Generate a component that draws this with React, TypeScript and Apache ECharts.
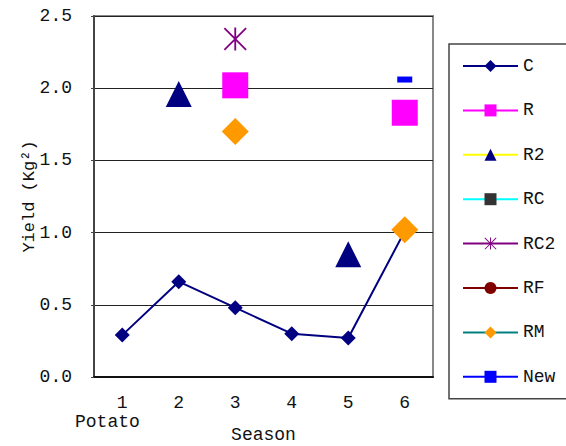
import React, { useEffect, useRef } from "react";
import * as echarts from "echarts";

const seasons = ["1", "2", "3", "4", "5", "6"];
const yTicks = [0, 0.5, 1.0, 1.5, 2.0, 2.5];
const seriesC = [0.29, 0.66, 0.48, 0.3, 0.27, 1.01];
const seriesR = [null, null, 2.02, null, null, 1.83];
const seriesR2 = [null, 1.96, null, null, 0.85, null];
const seriesRC: (number | null)[] = [null, null, null, null, null, null];
const seriesRC2 = [null, null, 2.34, null, null, null];
const seriesRF: (number | null)[] = [null, null, null, null, null, null];
const seriesRM = [null, null, 1.7, null, null, 1.02];
const seriesNew = [null, null, null, null, null, 2.06];

const FONT = "Liberation Mono";
const ASTERISK =
  "path://M9.2 0 H10.8 V20 H9.2 Z M0 1.1 L1.1 0 L20 18.9 L18.9 20 Z M18.9 0 L20 1.1 L1.1 20 L0 18.9 Z";

export default function App() {
  const ref = useRef<HTMLDivElement>(null);
  useEffect(() => {
    if (!ref.current) return;
    const chart = echarts.init(ref.current, null, { renderer: "svg" });
    const mk = (
      name: string,
      data: (number | null)[],
      line: string,
      fill: string,
      symbol: string,
      size: number | number[]
    ) => ({
      name,
      type: "line",
      data,
      connectNulls: false,
      symbol,
      symbolSize: size,
      showAllSymbol: true,
      lineStyle: { color: line, width: 2 },
      itemStyle: { color: fill },
      emphasis: { disabled: true },
    });
    chart.setOption({
      animation: false,
      textStyle: { fontFamily: FONT },
      grid: {
        left: 94,
        top: 16,
        right: 133,
        bottom: 69,
        show: true,
        borderColor: "#888",
        borderWidth: 2,
        outerBoundsMode: "none",
        containLabel: false,
      },
      legend: {
        orient: "vertical",
        left: 449,
        top: 44,
        itemWidth: 55,
        itemHeight: 15,
        itemGap: 26.4,
        padding: [13, 40, 13, 13],
        borderColor: "#444",
        borderWidth: 1.5,
        textStyle: { fontFamily: FONT, fontSize: 18, color: "#111" },
        data: ["C", "R", "R2", "RC", "RC2", "RF", "RM", "New"],
      },
      xAxis: {
        type: "category",
        data: seasons,
        boundaryGap: true,
        name: "Season",
        nameLocation: "middle",
        nameGap: 49,
        nameMoveOverlap: false,
        nameTextStyle: { fontFamily: FONT, fontSize: 18, color: "#111", lineHeight: 18 },
        axisLine: { lineStyle: { color: "#111", width: 2 } },
        axisTick: { inside: true, length: 6, lineStyle: { color: "#111", width: 1 } },
        axisLabel: { fontFamily: FONT, fontSize: 18, color: "#111", margin: 17 },
      },
      yAxis: {
        type: "value",
        min: yTicks[0],
        max: yTicks[yTicks.length - 1],
        interval: 0.5,
        name: "Yield (Kg²)",
        nameLocation: "middle",
        nameGap: 56,
        nameMoveOverlap: false,
        nameTextStyle: { fontFamily: FONT, fontSize: 17, color: "#111" },
        axisLine: { show: true, lineStyle: { color: "#444", width: 2 } },
        axisTick: { show: true, length: 3, lineStyle: { color: "#444" } },
        axisLabel: {
          fontFamily: FONT,
          fontSize: 18,
          color: "#111",
          margin: 22,
          formatter: (v: number) => v.toFixed(1),
        },
        splitLine: { lineStyle: { color: "#222", width: 1 } },
      },
      graphic: [
        {
          type: "text",
          left: 75,
          top: 413,
          style: { text: "Potato", font: `18px "${FONT}"`, fill: "#111" },
        },
      ],
      series: [
        mk("C", seriesC, "#000080", "#000080", "diamond", 15),
        mk("R", seriesR, "#FF00FF", "#FF00FF", "rect", 26),
        mk("R2", seriesR2, "#FFFF00", "#000080", "triangle", 26),
        mk("RC", seriesRC, "#00FFFF", "#333333", "rect", 20),
        mk("RC2", seriesRC2, "#800080", "#800080", ASTERISK, 23),
        mk("RF", seriesRF, "#800000", "#800000", "circle", 20),
        mk("RM", seriesRM, "#008080", "#FF9900", "diamond", 27),
        mk("New", seriesNew, "#0000FF", "#0000FF", "rect", [15, 6]),
      ],
    });
    return () => chart.dispose();
  }, []);
  return (
    <div
      ref={ref}
      style={{ position: "absolute", left: 0, top: 0, width: 566, height: 446 }}
    />
  );
}
